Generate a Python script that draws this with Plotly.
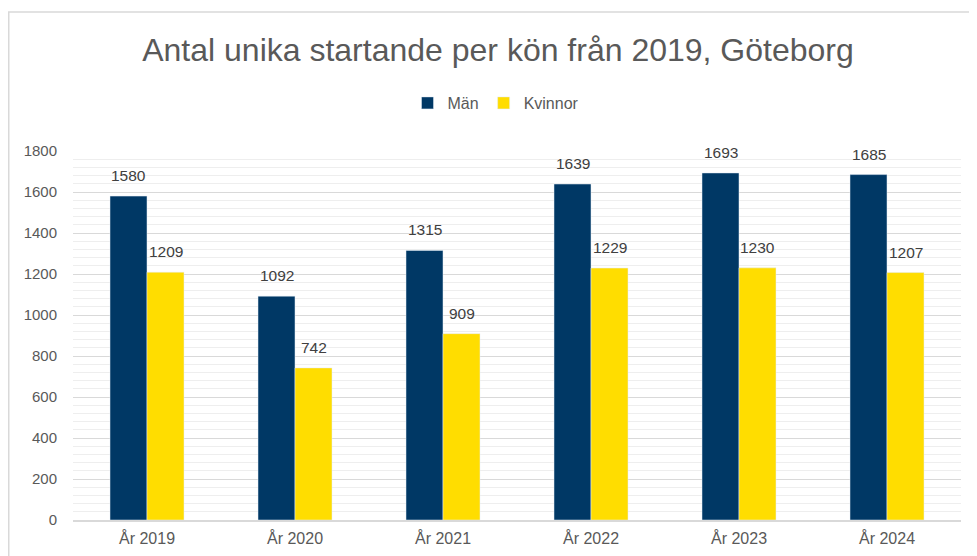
import plotly.graph_objects as go

years = ["År 2019", "År 2020", "År 2021", "År 2022", "År 2023", "År 2024"]
man = [1580, 1092, 1315, 1639, 1693, 1685]
kvinnor = [1209, 742, 909, 1229, 1230, 1207]

# the page puts the figure 8px in from the top left corner
W, H = 969, 548
L, R, T, B = 65, 16, 143, 36
pw = W - L - R
ph = H - T - B
bar_px = pw / len(years) / 4  # bargap 0.5 -> two bars fill half a category

fig = go.Figure()
fig.add_trace(go.Bar(x=years, y=man, name="Män", marker_color="#003865"))
fig.add_trace(go.Bar(x=years, y=kvinnor, name="Kvinnor", marker_color="#FFDD00"))

# value labels sit a bit higher above the bars than plotly's "outside" text
for vals, side in [(man, -1), (kvinnor, 1)]:
  for yr, v in zip(years, vals):
    fig.add_annotation(x=yr, y=v, text=str(v), showarrow=False,
                       xshift=side * bar_px / 2, yshift=20.5, yanchor="middle",
                       font=dict(size=15.5, color="#404040"))

fig.update_layout(
  width=W, height=H,
  margin=dict(l=L, r=R, t=T, b=B),
  paper_bgcolor="white", plot_bgcolor="white",
  font=dict(family="Liberation Sans, Arial", color="#595959", size=15),
  title=dict(text="Antal unika startande per kön från 2019, Göteborg",
             xref="paper", x=(490 - L) / pw, xanchor="center",
             y=1 - 42 / H, yanchor="middle",
             font=dict(size=32, color="#595959")),
  legend=dict(orientation="h", x=(488 - L) / pw, xanchor="center",
              y=1 + (T - 95) / ph, yanchor="middle",
              font=dict(size=16, color="#595959"), itemwidth=30),
  barmode="group", bargap=0.5, bargroupgap=0,
  showlegend=True,
)

fig.update_xaxes(showgrid=False, showline=True, linecolor="#d9d9d9", linewidth=1.5,
                 ticks="", tickfont=dict(size=16, color="#595959"),
                 ticklabelstandoff=3, automargin=False)
fig.update_yaxes(range=[0, 1800], dtick=200, showgrid=True, gridcolor="#d9d9d9", gridwidth=1,
                 minor=dict(dtick=40, showgrid=True, gridcolor="#eeeeee", gridwidth=1),
                 zeroline=False, ticks="", tickfont=dict(size=15, color="#595959"),
                 ticklabelstandoff=15, automargin=False)

# light frame round the chart, its right and bottom edges fall outside the window
fig.add_shape(type="rect", xref="paper", yref="paper",
              x0=(0.75 - L) / pw, x1=(W + 20 - L) / pw,
              y0=-(B + 20) / ph, y1=(ph + T - 4) / ph,
              line=dict(color="#d9d9d9", width=1.5), fillcolor="rgba(0,0,0,0)", layer="below")

fig.write_html("out.html")
